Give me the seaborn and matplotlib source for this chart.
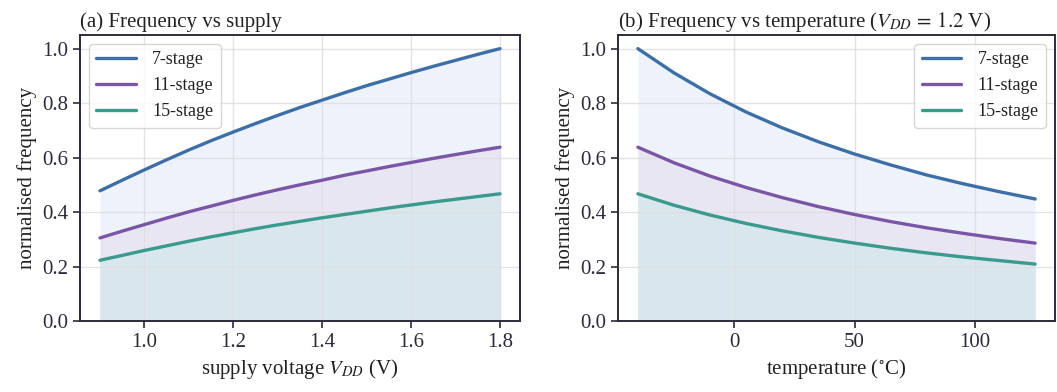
import matplotlib
matplotlib.use("Agg")
import matplotlib.pyplot as plt
import seaborn as sns
import pandas as pd

# supply sweep (panel a)
vdd = [0.90, 0.95, 1.00, 1.05, 1.10, 1.15, 1.20, 1.25, 1.30, 1.35,
       1.40, 1.45, 1.50, 1.55, 1.60, 1.65, 1.70, 1.75, 1.80]
f7_vdd = [0.478, 0.517, 0.555, 0.592, 0.628, 0.662, 0.694, 0.725, 0.755, 0.784,
          0.811, 0.838, 0.864, 0.888, 0.912, 0.935, 0.957, 0.979, 1.000]
f11_vdd = [0.305, 0.330, 0.354, 0.378, 0.401, 0.422, 0.443, 0.463, 0.482, 0.500,
           0.517, 0.535, 0.551, 0.567, 0.582, 0.597, 0.611, 0.625, 0.638]
f15_vdd = [0.223, 0.241, 0.259, 0.276, 0.293, 0.309, 0.324, 0.339, 0.353, 0.366,
           0.379, 0.391, 0.403, 0.415, 0.426, 0.437, 0.447, 0.457, 0.467]

# temperature sweep (panel b)
temp = [-40, -25, -10, 5, 20, 35, 50, 65, 80, 95, 110, 125]
f7_temp = [1.000, 0.911, 0.834, 0.767, 0.709, 0.658, 0.613, 0.573, 0.536, 0.504, 0.475, 0.448]
f11_temp = [0.638, 0.581, 0.532, 0.490, 0.453, 0.420, 0.391, 0.365, 0.342, 0.322, 0.303, 0.286]
f15_temp = [0.467, 0.425, 0.389, 0.358, 0.331, 0.307, 0.286, 0.267, 0.250, 0.235, 0.222, 0.209]

stages = ["7-stage", "11-stage", "15-stage"]
colors = ["#3d6fa6", "#7b56a6", "#3a9a8b"]
fills = ["#eef3fb", "#e8e6f3", "#d9e6ee"]

sns.set_theme(style="ticks")
plt.rcParams["font.family"] = ["Liberation Serif", "DejaVu Serif"]
plt.rcParams["mathtext.fontset"] = "stix"
plt.rcParams["axes.edgecolor"] = "#2b2b3a"
plt.rcParams["xtick.color"] = "#2b2b3a"
plt.rcParams["ytick.color"] = "#2b2b3a"
plt.rcParams["text.color"] = "#222222"
plt.rcParams["axes.labelcolor"] = "#222222"


def long_form(x, series, xname):
    rows = []
    for name, ys in zip(stages, series):
        for xv, yv in zip(x, ys):
            rows.append({xname: xv, "freq": yv, "stage": name})
    return pd.DataFrame(rows)


df_a = long_form(vdd, [f7_vdd, f11_vdd, f15_vdd], "vdd")
df_b = long_form(temp, [f7_temp, f11_temp, f15_temp], "temp")

fig = plt.figure(figsize=(10.57, 3.92), dpi=100)
ax1 = fig.add_axes([80 / 1057, 71 / 392, 440 / 1057, 286 / 392])
ax2 = fig.add_axes([618 / 1057, 71 / 392, 437 / 1057, 286 / 392])

panels = [
    (ax1, df_a, "vdd", vdd, [f7_vdd, f11_vdd, f15_vdd]),
    (ax2, df_b, "temp", temp, [f7_temp, f11_temp, f15_temp]),
]

for ax, df, xname, x, series in panels:
    for ys, fc in zip(series, fills):
        ax.fill_between(x, 0, ys, color=fc, linewidth=0)
    sns.lineplot(data=df, x=xname, y="freq", hue="stage", palette=colors,
                 linewidth=2.4, ax=ax)
    ax.set_ylim(0, 1.05)
    ax.set_yticks([0.0, 0.2, 0.4, 0.6, 0.8, 1.0])
    ax.grid(True, color="#dcdce0", linewidth=1.0, alpha=0.8)
    ax.set_axisbelow("line")
    ax.tick_params(labelsize=15, length=5, width=1.2)
    for s in ax.spines.values():
        s.set_linewidth(1.4)
    ax.set_ylabel("normalised frequency", fontsize=15)

ax1.set_xlabel("supply voltage $V_{DD}$ (V)", fontsize=15)
ax2.set_xlabel("temperature ($^{\\circ}$C)", fontsize=15)
ax2.set_xticks([0, 50, 100])

ax1.set_title("(a) Frequency vs supply", loc="left", fontsize=15)
ax2.set_title("(b) Frequency vs temperature ($V_{DD}\\,=\\,1.2$ V)", loc="left", fontsize=15)

ax1.legend(loc="upper left", fontsize=13, frameon=True, edgecolor="#cccccc",
           handlelength=2.2, handletextpad=0.9, title=None)
ax2.legend(loc="upper right", fontsize=13, frameon=True, edgecolor="#cccccc",
           handlelength=2.2, handletextpad=0.9, title=None)

fig.savefig("out.png", dpi=100)
